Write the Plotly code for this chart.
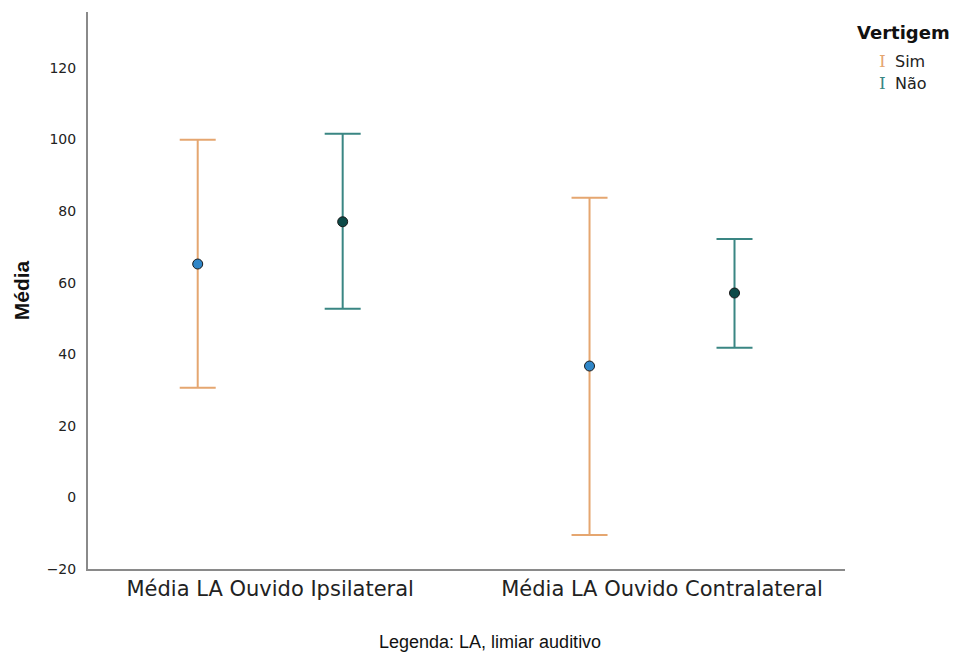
import plotly.graph_objects as go

categories = ["Média LA Ouvido Ipsilateral", "Média LA Ouvido Contralateral"]
groups = ["Sim", "Não"]
sim_mean = [65.2, 36.7]
sim_upper = [99.9, 83.7]
sim_lower = [30.6, -10.5]
nao_mean = [77.0, 57.1]
nao_upper = [101.6, 72.2]
nao_lower = [52.7, 41.8]
y_ticks = [-20, 0, 20, 40, 60, 80, 100, 120]

orange = "#E5A670"
teal = "#3A8683"
offset = 0.185

W, H = 954, 655
ML, MR, MT, MB = 88, 109, 12, 86

fig = go.Figure()

def add_series(means, upper, lower, xoff, line_color, fill_color, name):
    xs = [i + xoff for i in range(len(means))]
    fig.add_trace(go.Scatter(
        x=xs, y=means, mode="markers", name=name, showlegend=False,
        error_y=dict(type="data", symmetric=False,
                     array=[u - m for u, m in zip(upper, means)],
                     arrayminus=[m - l for m, l in zip(means, lower)],
                     color=line_color, thickness=2, width=18),
        marker=dict(size=10, color=fill_color, line=dict(color="#1a1a1a", width=1)),
    ))

add_series(sim_mean, sim_upper, sim_lower, -offset, orange, "#2F86C8", "Sim")
add_series(nao_mean, nao_upper, nao_lower, offset, teal, "#0D4A48", "Não")

fig.update_layout(
    width=W, height=H,
    margin=dict(l=ML, r=MR, t=MT, b=MB, autoexpand=False),
    plot_bgcolor="white", paper_bgcolor="white",
    showlegend=False,
    xaxis=dict(range=[-0.465, 1.467], tickvals=[0, 1], ticktext=categories,
               showgrid=False, zeroline=False, showline=True, linecolor="#8a8a8a",
               linewidth=2, ticks="", tickfont=dict(family="DejaVu Sans", size=21, color="#222")),
    yaxis=dict(range=[-20, 135.6], tickvals=y_ticks, showgrid=False, zeroline=False,
               showline=True, linecolor="#8a8a8a", linewidth=2, ticks="",
               ticklabelstandoff=7,
               tickfont=dict(family="DejaVu Sans", size=14, color="#222"),
               title=dict(text="<b>Média</b>", font=dict(family="Liberation Sans", size=21, color="#111"),
                          standoff=11)),
)

def px2paper(xp, yp):
    return (xp - ML) / (W - ML - MR), 1 - (yp - MT) / (H - MT - MB)

def add_text(xp, yp, text, font, xanchor="left"):
    x, y = px2paper(xp, yp)
    fig.add_annotation(x=x, y=y, xref="paper", yref="paper", text=text, showarrow=False,
                       xanchor=xanchor, yanchor="middle", font=font)

# legend drawn as text
add_text(855, 32, "<b>Vertigem</b>", dict(family="DejaVu Sans", size=18, color="#111"))
legend_items = [(groups[0], orange, 61), (groups[1], teal, 83)]
for label, col, ypix in legend_items:
    add_text(877, ypix, "I", dict(family="DejaVu Serif", size=17, color=col))
    add_text(893, ypix, label, dict(family="DejaVu Sans", size=16, color="#222"))

add_text(490, 642, "Legenda: LA, limiar auditivo",
         dict(family="Liberation Sans", size=18, color="#111"), xanchor="center")

fig.write_html("out.html", config={"displayModeBar": False},
               post_script="document.body.style.margin='0px';")
